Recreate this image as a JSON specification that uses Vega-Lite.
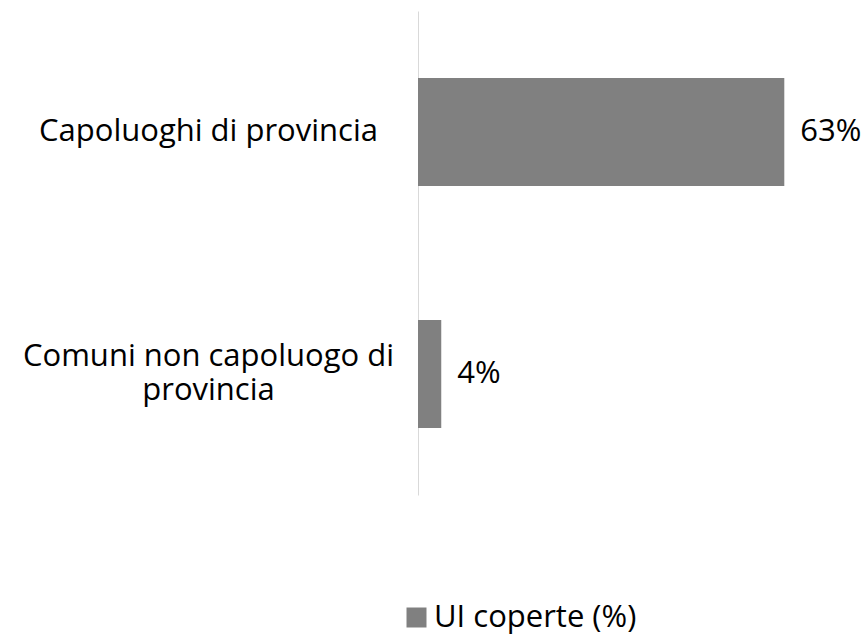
{
  "$schema": "https://vega.github.io/schema/vega-lite/v6.json",
  "autosize": "none",
  "padding": {"left": 418, "top": 11, "right": 41, "bottom": 143},
  "width": 407,
  "height": 484,
  "background": "white",
  "config": {"view": {"stroke": null}, "font": "Open Sans"},
  "data": {"values": [
    {"categoria": "Capoluoghi di provincia", "serie": "UI coperte (%)", "valore": 0.63},
    {"categoria": "Comuni non capoluogo di provincia", "serie": "UI coperte (%)", "valore": 0.04}
  ]},
  "encoding": {
    "y": {"field": "categoria", "type": "nominal", "sort": null,
      "scale": {"paddingInner": 0.554, "paddingOuter": 0.277},
      "axis": {"title": null, "ticks": false, "domainColor": "#d9d9d9", "domainWidth": 1,
        "labelFont": "Open Sans", "labelFontSize": 31, "labelColor": "#000000",
        "labelAlign": "center", "labelPadding": 210, "labelLimit": 500, "labelLineHeight": 34,
        "labelOffset": {"condition": {"test": "datum.value == 'Comuni non capoluogo di provincia'", "value": -17}, "value": 0},
        "labelExpr": "datum.label == 'Comuni non capoluogo di provincia' ? ['Comuni non capoluogo di', 'provincia'] : datum.label"}},
    "x": {"field": "valore", "type": "quantitative", "scale": {"domain": [0, 0.7]}, "axis": null}
  },
  "layer": [
    {"mark": {"type": "bar"},
     "encoding": {"color": {"field": "serie", "type": "nominal", "scale": {"range": ["#808080"]},
       "legend": {"title": null, "orient": "none", "legendX": -17, "legendY": 591, "symbolType": "square", "symbolSize": 400, "symbolStrokeWidth": 0, "labelFont": "Open Sans", "labelFontSize": 31, "labelColor": "#000000", "labelLimit": 400, "labelOffset": 2}}}},
    {"mark": {"type": "text", "align": "left", "dx": 16, "fontSize": 31, "font": "Open Sans", "color": "#000000"},
     "encoding": {"text": {"field": "valore", "type": "quantitative", "format": ".0%"}}}
  ]
}
